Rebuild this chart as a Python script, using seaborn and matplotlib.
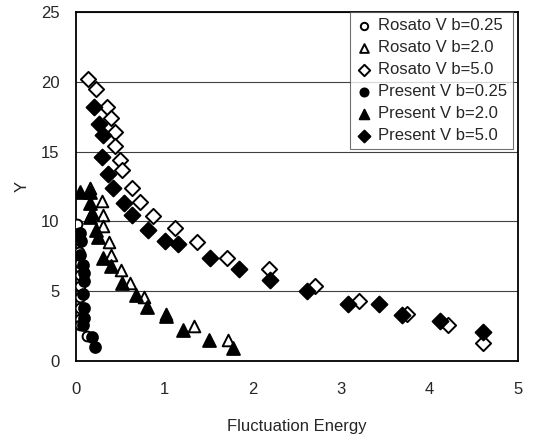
import matplotlib
matplotlib.use("Agg")
import matplotlib.pyplot as plt
import seaborn as sns
import pandas as pd

# -------------------------------
# DATA
# -------------------------------
rosato_025_x = [0.01, 0.03, 0.03, 0.04, 0.04, 0.04, 0.05, 0.05, 0.05, 0.05, 0.13]
rosato_025_y = [9.8, 8.8, 7.8, 7.0, 6.2, 5.4, 4.6, 3.8, 3.0, 2.6, 1.8]

rosato_20_x = [0.16, 0.29, 0.31, 0.31, 0.37, 0.40, 0.51, 0.61, 0.77, 1.02, 1.33, 1.72]
rosato_20_y = [12.4, 11.5, 10.5, 9.7, 8.5, 7.6, 6.5, 5.6, 4.6, 3.4, 2.5, 1.5]

rosato_50_x = [0.14, 0.23, 0.35, 0.40, 0.44, 0.44, 0.50, 0.52, 0.63, 0.72, 0.87,
               1.12, 1.37, 1.71, 2.18, 2.71, 3.20, 3.74, 4.21, 4.61]
rosato_50_y = [20.2, 19.5, 18.2, 17.4, 16.4, 15.4, 14.4, 13.7, 12.4, 11.4, 10.4,
               9.5, 8.5, 7.4, 6.6, 5.4, 4.3, 3.4, 2.6, 1.3]

present_025_x = [0.04, 0.06, 0.05, 0.08, 0.09, 0.09, 0.08, 0.09, 0.09, 0.08, 0.18, 0.21]
present_025_y = [9.2, 8.6, 7.6, 6.9, 6.3, 5.7, 4.8, 3.8, 3.1, 2.6, 1.7, 1.0]

present_20_x = [0.05, 0.16, 0.16, 0.18, 0.16, 0.23, 0.25, 0.31, 0.40, 0.52, 0.68,
                0.80, 1.02, 1.21, 1.50, 1.78]
present_20_y = [12.1, 12.1, 11.3, 10.6, 10.3, 9.4, 8.9, 7.4, 6.8, 5.6, 4.7,
                3.9, 3.2, 2.2, 1.5, 0.9]

present_50_x = [0.20, 0.26, 0.31, 0.30, 0.36, 0.42, 0.54, 0.63, 0.82, 1.01, 1.16,
                1.52, 1.84, 2.20, 2.61, 3.08, 3.43, 3.69, 4.12, 4.61]
present_50_y = [18.2, 17.0, 16.2, 14.6, 13.4, 12.4, 11.3, 10.5, 9.4, 8.6, 8.4,
                7.4, 6.6, 5.8, 5.0, 4.1, 4.1, 3.3, 2.9, 2.1]

series = [
    ("Rosato V b=0.25", rosato_025_x, rosato_025_y, "o", "white", 50),
    ("Rosato V b=2.0", rosato_20_x, rosato_20_y, "^", "white", 70),
    ("Rosato V b=5.0", rosato_50_x, rosato_50_y, "D", "white", 60),
    ("Present V b=0.25", present_025_x, present_025_y, "o", "black", 60),
    ("Present V b=2.0", present_20_x, present_20_y, "^", "black", 85),
    ("Present V b=5.0", present_50_x, present_50_y, "D", "black", 65),
]

# -------------------------------
# PLOT
# -------------------------------
sns.set_style("white")
plt.rcParams['font.family'] = ['Liberation Sans', 'DejaVu Sans']

fig = plt.figure(figsize=(5.35, 4.36), dpi=100)
ax = fig.add_axes([0.142, 0.172, 0.826, 0.8])

for label, xs, ys, marker, face, size in series:
    df = pd.DataFrame({"x": xs, "y": ys})
    sns.scatterplot(data=df, x="x", y="y", marker=marker, s=size,
                    facecolor=face, edgecolor="black", linewidth=1.4,
                    label=label, ax=ax, zorder=3)

ax.set_xlim(0, 5)
ax.set_ylim(0, 25)
ax.set_xticks([0, 1, 2, 3, 4, 5])
ax.set_yticks([0, 5, 10, 15, 20, 25])
ax.yaxis.grid(True, color="0.25", linewidth=0.8)
ax.xaxis.grid(False)
ax.tick_params(axis="both", length=0, labelsize=12)
ax.tick_params(axis="x", pad=15)
ax.tick_params(axis="y", pad=12)
for sp in ax.spines.values():
    sp.set_color("black")
    sp.set_linewidth(1.3)

ax.set_xlabel("Fluctuation Energy", fontsize=12, labelpad=16)
ax.set_ylabel("Y", fontsize=12, labelpad=8)

leg = ax.legend(loc="upper right", bbox_to_anchor=(0.988, 1.0), fontsize=12,
                frameon=True, fancybox=False, edgecolor="0.3",
                handletextpad=0.3, labelspacing=0.42, borderpad=0.35,
                handlelength=1.0, markerscale=0.75, borderaxespad=0)
leg.get_frame().set_linewidth(0.8)

plt.savefig("out.png", dpi=100)
